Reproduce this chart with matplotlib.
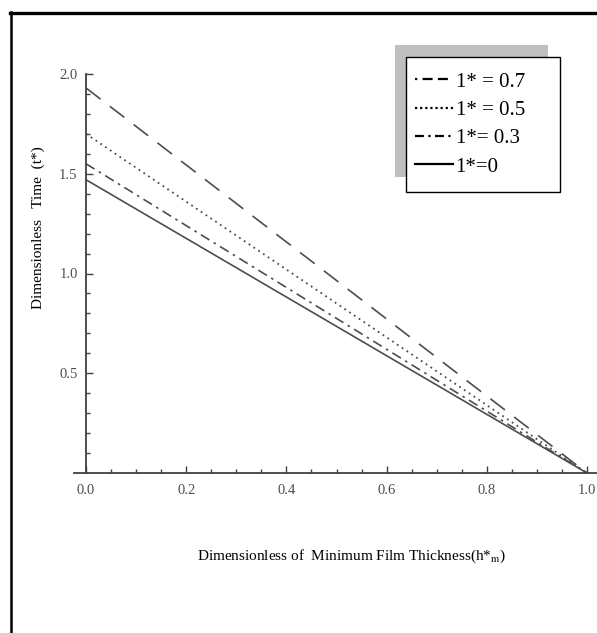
import matplotlib.pyplot as plt
from matplotlib.lines import Line2D
from matplotlib.patches import Rectangle

plt.rcParams['font.family'] = ['Liberation Serif', 'DejaVu Serif']
plt.rcParams['mathtext.fontset'] = 'stix'

# film thickness end points and dimensionless time for each l* value
h_m = [0.0, 1.0]
t_l07 = [1.93, 0.0]
t_l05 = [1.70, 0.0]
t_l03 = [1.55, 0.0]
t_l00 = [1.47, 0.0]
labels = ['1* = 0.7', '1* = 0.5', '1*= 0.3', '1*=0']

W, H = 597, 633
fig = plt.figure(figsize=(W / 100, H / 100), dpi=100)

def px(x, y):
    return x / W, 1 - y / H

# axes: x=-0.025..1.02 -> px 73.5..597, y=0..2 -> px 473..74
ax = fig.add_axes([73.5 / W, (H - 473) / H, (W - 73.5) / W, 399 / H])
ax.set_xlim(-0.025, 1.02)
ax.set_ylim(0, 2.0)

c = '0.3'
ax.plot(h_m, t_l07, color=c, lw=1.2, ls=(0, (11, 7)), label=labels[0])
ax.plot(h_m, t_l05, color=c, lw=1.3, ls=(0, (1, 2.2)), label=labels[1])
ax.plot(h_m, t_l03, color=c, lw=1.2, ls=(0, (6, 3, 1.5, 3)), label=labels[2])
ax.plot(h_m, t_l00, color=c, lw=1.2, ls='-', label=labels[3])

# Mathematica style axes crossing at origin
for s in ['top', 'right']:
    ax.spines[s].set_visible(False)
ax.spines['left'].set_position(('data', 0))
ax.spines['bottom'].set_position(('data', 0))
for s in ['left', 'bottom']:
    ax.spines[s].set_color('0.25')
    ax.spines[s].set_linewidth(1.3)

ax.set_xticks([0.0, 0.2, 0.4, 0.6, 0.8, 1.0])
ax.set_xticklabels(['0.0', '0.2', '0.4', '0.6', '0.8', '1.0'])
ax.set_xticks([i * 0.05 for i in range(21)], minor=True)
ax.set_yticks([0.5, 1.0, 1.5, 2.0])
ax.set_yticklabels(['0.5', '1.0', '1.5', '2.0'])
ax.set_yticks([i * 0.1 for i in range(1, 20)], minor=True)
ax.tick_params(which='both', direction='in', color='0.25', width=1.0)
ax.tick_params(which='major', length=5, labelsize=10.5, labelcolor='0.3')
ax.tick_params(which='minor', length=3)
ax.tick_params(axis='x', pad=8)
ax.tick_params(axis='y', pad=6)

# legend box with grey offset shadow
ax.add_patch(Rectangle(px(395, 177), 153 / W, 132 / H, transform=fig.transFigure,
                       facecolor='0.75', edgecolor='none', zorder=4, clip_on=False))
ax.add_patch(Rectangle(px(406, 192), 154 / W, 135 / H, transform=fig.transFigure,
                       facecolor='white', edgecolor='black', lw=1.0, zorder=4.5,
                       clip_on=False))
leg = ax.legend(loc='upper left', bbox_to_anchor=px(415, 72),
                bbox_transform=fig.transFigure, borderaxespad=0, borderpad=0,
                frameon=False, fontsize=15, handlelength=1.8, handletextpad=0.15,
                labelspacing=0.42)
leg.set_zorder(6)
handle_styles = [(3.5, (4.5, 2.4)), (0, (1, 1.3)), (0, (4, 2, 1, 2)), '-']
for ln, st in zip(leg.get_lines(), handle_styles):
    ln.set_color('black')
    ln.set_linewidth(1.6)
    ln.set_linestyle(st)

fig.text(*px(38, 228), 'Dimensionless   Time  (t*)', rotation=90,
         ha='center', va='center', fontsize=11)
fig.text(*px(352, 556), r'Dimensionless of  Minimum Film Thickness(h*$_{\mathrm{m}}$)',
         ha='center', va='center', fontsize=11)

# outer border lines
fig.add_artist(Line2D([10 / W, 1], [1 - 12.5 / H] * 2, color='black', lw=2.4))
fig.add_artist(Line2D([11 / W] * 2, [1 - 12 / H, 0], color='black', lw=1.8))

fig.savefig('out.png', dpi=100)
